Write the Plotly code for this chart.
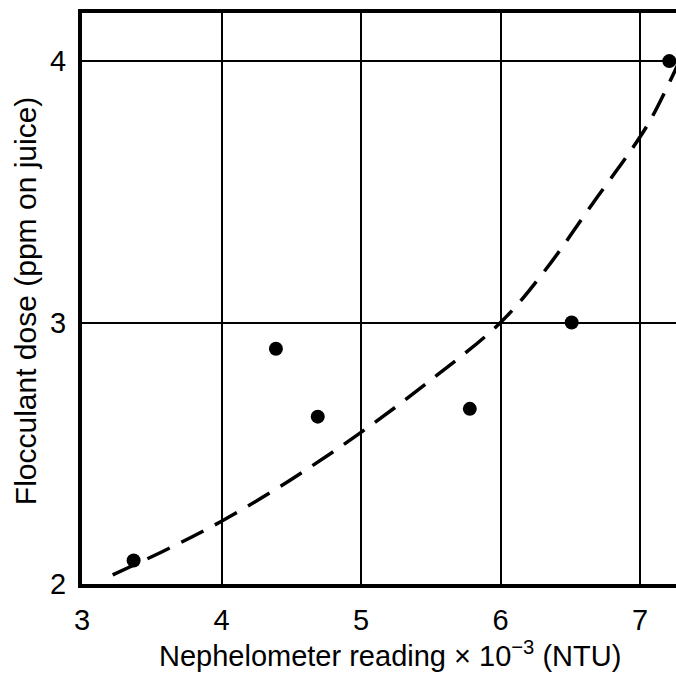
import plotly.graph_objects as go

# Measured data points
pts_x = [3.37, 4.39, 4.69, 5.78, 6.51, 7.21]
pts_y = [2.09, 2.90, 2.64, 2.67, 3.00, 4.00]

# Dashed fitted curve
curve_x = [3.22, 3.6, 4.0, 4.5, 5.0, 5.5, 6.0, 6.32, 6.68, 6.95, 7.08, 7.27]
curve_y = [2.035, 2.13, 2.24, 2.40, 2.58, 2.78, 3.0, 3.20, 3.47, 3.67, 3.78, 3.985]

x_ticks = [3, 4, 5, 6, 7]
y_ticks = [2, 3, 4]

x_title = "Nephelometer reading × 10<sup>−3</sup> (NTU)"
y_title = "Flocculant dose (ppm on juice)"

FONT = "Liberation Sans, Arial, sans-serif"

fig = go.Figure()
fig.add_trace(go.Scatter(
    x=curve_x, y=curve_y, mode="lines", line_shape="spline",
    line=dict(color="black", width=3.5, dash="25px,13px"),
    hoverinfo="skip", showlegend=False))
fig.add_trace(go.Scatter(
    x=pts_x, y=pts_y, mode="markers",
    marker=dict(color="black", size=14),
    showlegend=False, cliponaxis=False))

fig.update_layout(
    width=676, height=677,
    margin=dict(l=82, r=0, t=13, b=93),
    paper_bgcolor="white", plot_bgcolor="white",
    font=dict(family=FONT, color="black", size=29),
    xaxis=dict(range=[3, 7.258], tickmode="array", tickvals=x_ticks,
               showgrid=True, gridcolor="black", gridwidth=2,
               showline=True, linecolor="black", linewidth=4, mirror=True,
               ticks="outside", ticklen=7, tickcolor="rgba(0,0,0,0)",
               zeroline=False, tickfont=dict(size=29, family=FONT, color="black")),
    yaxis=dict(range=[2, 4.184], tickmode="array", tickvals=y_ticks,
               showgrid=True, gridcolor="black", gridwidth=2,
               showline=True, linecolor="black", linewidth=4, mirror=False,
               ticks="outside", ticklen=6, tickcolor="rgba(0,0,0,0)",
               zeroline=False, tickfont=dict(size=29, family=FONT, color="black")),
    annotations=[
        dict(text=x_title, x=0.519, y=-0.157, xref="paper", yref="paper",
             showarrow=False, xanchor="center", yanchor="bottom",
             font=dict(size=29, family=FONT, color="black")),
        dict(text=y_title, x=-0.096, y=0.497, xref="paper", yref="paper",
             showarrow=False, xanchor="center", yanchor="middle", textangle=-90,
             font=dict(size=30, family=FONT, color="black")),
    ],
)

fig.write_html("out.html")
